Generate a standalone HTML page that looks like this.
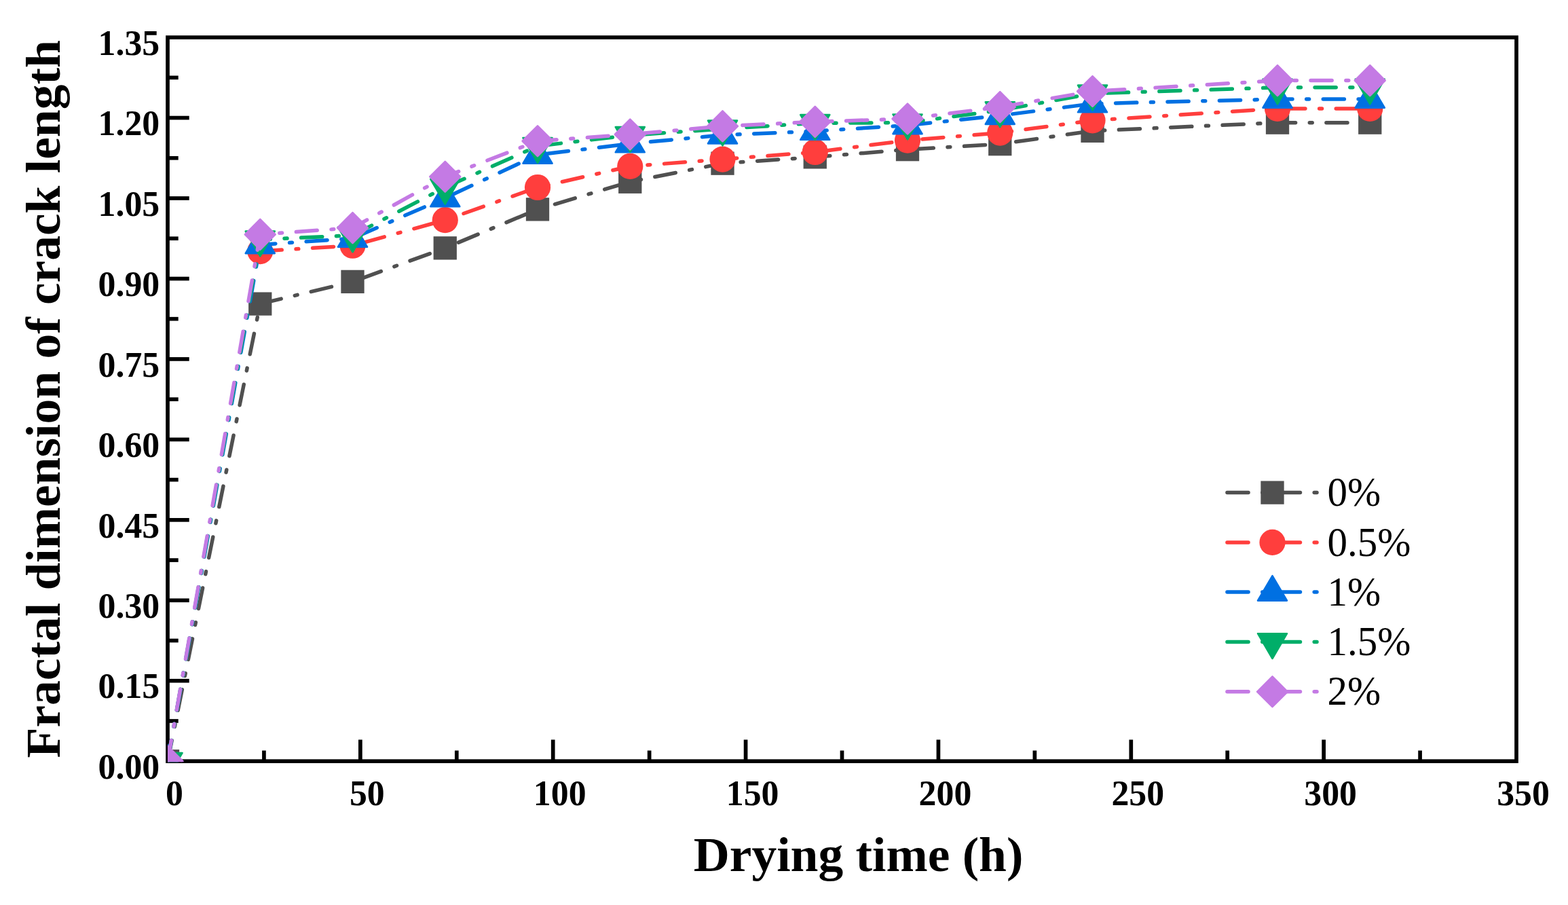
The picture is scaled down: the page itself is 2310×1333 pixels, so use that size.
<!DOCTYPE html>
<html lang="en"><head><meta charset="utf-8"><title>Fractal dimension of crack length vs drying time</title>
<style>
html,body{margin:0;padding:0;background:#fff;}
body{width:2310px;height:1333px;overflow:hidden;}
svg{display:block;}
text{font-family:"Liberation Serif",serif;fill:#000;}
.tick{font-weight:bold;font-size:51.8px;}
.title{font-weight:bold;font-size:73.5px;}
.leg{font-size:59px;}
</style></head><body>
<svg width="2310" height="1333" viewBox="0 0 2310 1333" role="img" aria-label="Fractal dimension of crack length versus drying time">
<rect x="0" y="0" width="2310" height="1333" fill="#ffffff"/>
<defs><clipPath id="plot"><rect x="247" y="55.1" width="1987" height="1067.1"/></clipPath></defs>
<g fill="none" stroke="#000" stroke-width="5.7" stroke-linecap="butt">
<rect x="247" y="55.1" width="1987" height="1066.1"/>
</g>
<g stroke="#000" stroke-width="5.7" stroke-linecap="butt">
<line x1="247" y1="1061.97" x2="262.7" y2="1061.97"/>
<line x1="247" y1="1002.74" x2="278.7" y2="1002.74"/>
<line x1="247" y1="943.52" x2="262.7" y2="943.52"/>
<line x1="247" y1="884.29" x2="278.7" y2="884.29"/>
<line x1="247" y1="825.06" x2="262.7" y2="825.06"/>
<line x1="247" y1="765.83" x2="278.7" y2="765.83"/>
<line x1="247" y1="706.61" x2="262.7" y2="706.61"/>
<line x1="247" y1="647.38" x2="278.7" y2="647.38"/>
<line x1="247" y1="588.15" x2="262.7" y2="588.15"/>
<line x1="247" y1="528.92" x2="278.7" y2="528.92"/>
<line x1="247" y1="469.69" x2="262.7" y2="469.69"/>
<line x1="247" y1="410.47" x2="278.7" y2="410.47"/>
<line x1="247" y1="351.24" x2="262.7" y2="351.24"/>
<line x1="247" y1="292.01" x2="278.7" y2="292.01"/>
<line x1="247" y1="232.78" x2="262.7" y2="232.78"/>
<line x1="247" y1="173.56" x2="278.7" y2="173.56"/>
<line x1="247" y1="114.33" x2="262.7" y2="114.33"/>
<line x1="388.93" y1="1121.2" x2="388.93" y2="1105.5"/>
<line x1="530.86" y1="1121.2" x2="530.86" y2="1089.5"/>
<line x1="672.79" y1="1121.2" x2="672.79" y2="1105.5"/>
<line x1="814.71" y1="1121.2" x2="814.71" y2="1089.5"/>
<line x1="956.64" y1="1121.2" x2="956.64" y2="1105.5"/>
<line x1="1098.57" y1="1121.2" x2="1098.57" y2="1089.5"/>
<line x1="1240.5" y1="1121.2" x2="1240.5" y2="1105.5"/>
<line x1="1382.43" y1="1121.2" x2="1382.43" y2="1089.5"/>
<line x1="1524.36" y1="1121.2" x2="1524.36" y2="1105.5"/>
<line x1="1666.29" y1="1121.2" x2="1666.29" y2="1089.5"/>
<line x1="1808.21" y1="1121.2" x2="1808.21" y2="1105.5"/>
<line x1="1950.14" y1="1121.2" x2="1950.14" y2="1089.5"/>
<line x1="2092.07" y1="1121.2" x2="2092.07" y2="1105.5"/>
</g>
<g class="tick" text-anchor="end">
<text transform="translate(235.2 1146.9) scale(1 1.022)">0.00</text>
<text transform="translate(235.2 1028.44) scale(1 1.022)">0.15</text>
<text transform="translate(235.2 909.99) scale(1 1.022)">0.30</text>
<text transform="translate(235.2 791.53) scale(1 1.022)">0.45</text>
<text transform="translate(235.2 673.08) scale(1 1.022)">0.60</text>
<text transform="translate(235.2 554.62) scale(1 1.022)">0.75</text>
<text transform="translate(235.2 436.17) scale(1 1.022)">0.90</text>
<text transform="translate(235.2 317.71) scale(1 1.022)">1.05</text>
<text transform="translate(235.2 199.26) scale(1 1.022)">1.20</text>
<text transform="translate(235.2 80.8) scale(1 1.022)">1.35</text>
</g>
<g class="tick" text-anchor="middle">
<text transform="translate(257 1186.1) scale(1 1.022)">0</text>
<text transform="translate(540.86 1186.1) scale(1 1.022)">50</text>
<text transform="translate(824.71 1186.1) scale(1 1.022)">100</text>
<text transform="translate(1108.57 1186.1) scale(1 1.022)">150</text>
<text transform="translate(1392.43 1186.1) scale(1 1.022)">200</text>
<text transform="translate(1676.29 1186.1) scale(1 1.022)">250</text>
<text transform="translate(1960.14 1186.1) scale(1 1.022)">300</text>
<text transform="translate(2244 1186.1) scale(1 1.022)">350</text>
</g>
<text class="title" text-anchor="middle" transform="translate(1264.6 1283) scale(1 0.983)">Drying time (h)</text>
<text class="title" text-anchor="middle" transform="translate(88 587.8) rotate(-90) scale(1 0.983)">Fractal dimension of crack length</text>
<g clip-path="url(#plot)">
<polyline points="247,1121.2 383.25,447.58 519.5,414.89 655.75,365.37 792.01,308.36 928.26,267.77 1064.51,240.68 1200.76,231.36 1337.01,220.15 1473.26,212.17 1609.51,192.82 1882.02,180.66 2018.27,180.66" fill="none" stroke="#505050" stroke-width="5.5" stroke-linecap="round" stroke-linejoin="round" stroke-dasharray="31.1 20.72 3.9 20.72"/>
<rect x="229.85" y="1104.05" width="34.3" height="34.3" fill="#505050"/>
<rect x="366.1" y="430.43" width="34.3" height="34.3" fill="#505050"/>
<rect x="502.35" y="397.74" width="34.3" height="34.3" fill="#505050"/>
<rect x="638.6" y="348.22" width="34.3" height="34.3" fill="#505050"/>
<rect x="774.86" y="291.21" width="34.3" height="34.3" fill="#505050"/>
<rect x="911.11" y="250.62" width="34.3" height="34.3" fill="#505050"/>
<rect x="1047.36" y="223.53" width="34.3" height="34.3" fill="#505050"/>
<rect x="1183.61" y="214.21" width="34.3" height="34.3" fill="#505050"/>
<rect x="1319.86" y="203" width="34.3" height="34.3" fill="#505050"/>
<rect x="1456.11" y="195.02" width="34.3" height="34.3" fill="#505050"/>
<rect x="1592.36" y="175.67" width="34.3" height="34.3" fill="#505050"/>
<rect x="1864.87" y="163.51" width="34.3" height="34.3" fill="#505050"/>
<rect x="2001.12" y="163.51" width="34.3" height="34.3" fill="#505050"/>
<polyline points="383.25,370.03 519.5,361.74 655.75,324.15 792.01,275.98 928.26,244.94 1064.51,234.6 1200.76,224.02 1337.01,206.72 1473.26,195.59 1609.51,177.43 1882.02,159.89 2018.27,159.89" fill="none" stroke="#FF3E3D" stroke-width="5.5" stroke-linecap="round" stroke-linejoin="round" stroke-dasharray="31.1 20.72 3.9 20.72" stroke-dashoffset="75.46"/>
<circle cx="383.25" cy="370.03" r="19.1" fill="#FF3E3D"/>
<circle cx="519.5" cy="361.74" r="19.1" fill="#FF3E3D"/>
<circle cx="655.75" cy="324.15" r="19.1" fill="#FF3E3D"/>
<circle cx="792.01" cy="275.98" r="19.1" fill="#FF3E3D"/>
<circle cx="928.26" cy="244.94" r="19.1" fill="#FF3E3D"/>
<circle cx="1064.51" cy="234.6" r="19.1" fill="#FF3E3D"/>
<circle cx="1200.76" cy="224.02" r="19.1" fill="#FF3E3D"/>
<circle cx="1337.01" cy="206.72" r="19.1" fill="#FF3E3D"/>
<circle cx="1473.26" cy="195.59" r="19.1" fill="#FF3E3D"/>
<circle cx="1609.51" cy="177.43" r="19.1" fill="#FF3E3D"/>
<circle cx="1882.02" cy="159.89" r="19.1" fill="#FF3E3D"/>
<circle cx="2018.27" cy="159.89" r="19.1" fill="#FF3E3D"/>
<polyline points="247,1121.2 383.25,360.48 519.5,351.08 655.75,291.62 792.01,228.05 928.26,211.7 1064.51,198.83 1200.76,193.22 1337.01,184.61 1473.26,170.24 1609.51,152.71 1882.02,146.07 2018.27,146.07" fill="none" stroke="#0070E2" stroke-width="5.5" stroke-linecap="round" stroke-linejoin="round" stroke-dasharray="31.1 20.72 3.9 20.72"/>
<polygon points="225.5,1133.8 268.5,1133.8 247,1097.4" fill="#0070E2" stroke="#0070E2" stroke-width="2.6" stroke-linejoin="round"/>
<polygon points="361.75,373.08 404.75,373.08 383.25,336.68" fill="#0070E2" stroke="#0070E2" stroke-width="2.6" stroke-linejoin="round"/>
<polygon points="498,363.68 541,363.68 519.5,327.28" fill="#0070E2" stroke="#0070E2" stroke-width="2.6" stroke-linejoin="round"/>
<polygon points="634.25,304.22 677.25,304.22 655.75,267.82" fill="#0070E2" stroke="#0070E2" stroke-width="2.6" stroke-linejoin="round"/>
<polygon points="770.51,240.65 813.51,240.65 792.01,204.25" fill="#0070E2" stroke="#0070E2" stroke-width="2.6" stroke-linejoin="round"/>
<polygon points="906.76,224.3 949.76,224.3 928.26,187.9" fill="#0070E2" stroke="#0070E2" stroke-width="2.6" stroke-linejoin="round"/>
<polygon points="1043.01,211.43 1086.01,211.43 1064.51,175.03" fill="#0070E2" stroke="#0070E2" stroke-width="2.6" stroke-linejoin="round"/>
<polygon points="1179.26,205.82 1222.26,205.82 1200.76,169.42" fill="#0070E2" stroke="#0070E2" stroke-width="2.6" stroke-linejoin="round"/>
<polygon points="1315.51,197.21 1358.51,197.21 1337.01,160.81" fill="#0070E2" stroke="#0070E2" stroke-width="2.6" stroke-linejoin="round"/>
<polygon points="1451.76,182.84 1494.76,182.84 1473.26,146.44" fill="#0070E2" stroke="#0070E2" stroke-width="2.6" stroke-linejoin="round"/>
<polygon points="1588.01,165.31 1631.01,165.31 1609.51,128.91" fill="#0070E2" stroke="#0070E2" stroke-width="2.6" stroke-linejoin="round"/>
<polygon points="1860.52,158.67 1903.52,158.67 1882.02,122.27" fill="#0070E2" stroke="#0070E2" stroke-width="2.6" stroke-linejoin="round"/>
<polygon points="1996.77,158.67 2039.77,158.67 2018.27,122.27" fill="#0070E2" stroke="#0070E2" stroke-width="2.6" stroke-linejoin="round"/>
<polyline points="247,1121.2 383.25,352.82 519.5,346.66 655.75,275.98 792.01,215.17 928.26,199.22 1064.51,189.82 1200.76,181.29 1337.01,180.66 1473.26,162.5 1609.51,137.78 1882.02,128.86 2018.27,128.86" fill="none" stroke="#00AE69" stroke-width="5.5" stroke-linecap="round" stroke-linejoin="round" stroke-dasharray="31.1 20.72 3.9 20.72"/>
<polygon points="225.5,1109 268.5,1109 247,1145.8" fill="#00AE69" stroke="#00AE69" stroke-width="2.6" stroke-linejoin="round"/>
<polygon points="361.75,340.62 404.75,340.62 383.25,377.42" fill="#00AE69" stroke="#00AE69" stroke-width="2.6" stroke-linejoin="round"/>
<polygon points="498,334.46 541,334.46 519.5,371.26" fill="#00AE69" stroke="#00AE69" stroke-width="2.6" stroke-linejoin="round"/>
<polygon points="634.25,263.78 677.25,263.78 655.75,300.58" fill="#00AE69" stroke="#00AE69" stroke-width="2.6" stroke-linejoin="round"/>
<polygon points="770.51,202.97 813.51,202.97 792.01,239.77" fill="#00AE69" stroke="#00AE69" stroke-width="2.6" stroke-linejoin="round"/>
<polygon points="906.76,187.02 949.76,187.02 928.26,223.82" fill="#00AE69" stroke="#00AE69" stroke-width="2.6" stroke-linejoin="round"/>
<polygon points="1043.01,177.62 1086.01,177.62 1064.51,214.42" fill="#00AE69" stroke="#00AE69" stroke-width="2.6" stroke-linejoin="round"/>
<polygon points="1179.26,169.09 1222.26,169.09 1200.76,205.89" fill="#00AE69" stroke="#00AE69" stroke-width="2.6" stroke-linejoin="round"/>
<polygon points="1315.51,168.46 1358.51,168.46 1337.01,205.26" fill="#00AE69" stroke="#00AE69" stroke-width="2.6" stroke-linejoin="round"/>
<polygon points="1451.76,150.3 1494.76,150.3 1473.26,187.1" fill="#00AE69" stroke="#00AE69" stroke-width="2.6" stroke-linejoin="round"/>
<polygon points="1588.01,125.58 1631.01,125.58 1609.51,162.38" fill="#00AE69" stroke="#00AE69" stroke-width="2.6" stroke-linejoin="round"/>
<polygon points="1860.52,116.66 1903.52,116.66 1882.02,153.46" fill="#00AE69" stroke="#00AE69" stroke-width="2.6" stroke-linejoin="round"/>
<polygon points="1996.77,116.66 2039.77,116.66 2018.27,153.46" fill="#00AE69" stroke="#00AE69" stroke-width="2.6" stroke-linejoin="round"/>
<polyline points="247,1121.2 383.25,345.4 519.5,335.6 655.75,260.27 792.01,207.75 928.26,198.04 1064.51,185.87 1200.76,179.4 1337.01,174.98 1473.26,157.6 1609.51,134.54 1882.02,118.59 2018.27,118.59" fill="none" stroke="#C47AE4" stroke-width="5.5" stroke-linecap="round" stroke-linejoin="round" stroke-dasharray="31.1 20.72 3.9 20.72"/>
<polygon points="224.6,1121.2 247,1098.8 269.4,1121.2 247,1143.6" fill="#C47AE4" stroke="#C47AE4" stroke-width="2.6" stroke-linejoin="round"/>
<polygon points="360.85,345.4 383.25,323 405.65,345.4 383.25,367.8" fill="#C47AE4" stroke="#C47AE4" stroke-width="2.6" stroke-linejoin="round"/>
<polygon points="497.1,335.6 519.5,313.2 541.9,335.6 519.5,358" fill="#C47AE4" stroke="#C47AE4" stroke-width="2.6" stroke-linejoin="round"/>
<polygon points="633.35,260.27 655.75,237.87 678.15,260.27 655.75,282.67" fill="#C47AE4" stroke="#C47AE4" stroke-width="2.6" stroke-linejoin="round"/>
<polygon points="769.61,207.75 792.01,185.35 814.41,207.75 792.01,230.15" fill="#C47AE4" stroke="#C47AE4" stroke-width="2.6" stroke-linejoin="round"/>
<polygon points="905.86,198.04 928.26,175.64 950.66,198.04 928.26,220.44" fill="#C47AE4" stroke="#C47AE4" stroke-width="2.6" stroke-linejoin="round"/>
<polygon points="1042.11,185.87 1064.51,163.47 1086.91,185.87 1064.51,208.27" fill="#C47AE4" stroke="#C47AE4" stroke-width="2.6" stroke-linejoin="round"/>
<polygon points="1178.36,179.4 1200.76,157 1223.16,179.4 1200.76,201.8" fill="#C47AE4" stroke="#C47AE4" stroke-width="2.6" stroke-linejoin="round"/>
<polygon points="1314.61,174.98 1337.01,152.58 1359.41,174.98 1337.01,197.38" fill="#C47AE4" stroke="#C47AE4" stroke-width="2.6" stroke-linejoin="round"/>
<polygon points="1450.86,157.6 1473.26,135.2 1495.66,157.6 1473.26,180" fill="#C47AE4" stroke="#C47AE4" stroke-width="2.6" stroke-linejoin="round"/>
<polygon points="1587.11,134.54 1609.51,112.14 1631.91,134.54 1609.51,156.94" fill="#C47AE4" stroke="#C47AE4" stroke-width="2.6" stroke-linejoin="round"/>
<polygon points="1859.62,118.59 1882.02,96.19 1904.42,118.59 1882.02,140.99" fill="#C47AE4" stroke="#C47AE4" stroke-width="2.6" stroke-linejoin="round"/>
<polygon points="1995.87,118.59 2018.27,96.19 2040.67,118.59 2018.27,140.99" fill="#C47AE4" stroke="#C47AE4" stroke-width="2.6" stroke-linejoin="round"/>
</g>
<g>
<line x1="1807.95" y1="725.6" x2="1940" y2="725.6" stroke="#505050" stroke-width="5.5" stroke-linecap="round" stroke-dasharray="31.1 20.72 3.9 20.72"/>
<rect x="1857.35" y="708.45" width="34.3" height="34.3" fill="#505050"/>
<text class="leg" transform="translate(1955.4 745.25) scale(1 1.026)">0%</text>
<line x1="1807.95" y1="798.9" x2="1940" y2="798.9" stroke="#FF3E3D" stroke-width="5.5" stroke-linecap="round" stroke-dasharray="31.1 20.72 3.9 20.72"/>
<circle cx="1874.5" cy="798.9" r="19.1" fill="#FF3E3D"/>
<text class="leg" transform="translate(1955.4 818.55) scale(1 1.026)">0.5%</text>
<line x1="1807.95" y1="872" x2="1940" y2="872" stroke="#0070E2" stroke-width="5.5" stroke-linecap="round" stroke-dasharray="31.1 20.72 3.9 20.72"/>
<polygon points="1853,884.6 1896,884.6 1874.5,848.2" fill="#0070E2" stroke="#0070E2" stroke-width="2.6" stroke-linejoin="round"/>
<text class="leg" transform="translate(1955.4 891.65) scale(1 1.026)">1%</text>
<line x1="1807.95" y1="945.4" x2="1940" y2="945.4" stroke="#00AE69" stroke-width="5.5" stroke-linecap="round" stroke-dasharray="31.1 20.72 3.9 20.72"/>
<polygon points="1853,933.2 1896,933.2 1874.5,970" fill="#00AE69" stroke="#00AE69" stroke-width="2.6" stroke-linejoin="round"/>
<text class="leg" transform="translate(1955.4 965.05) scale(1 1.026)">1.5%</text>
<line x1="1807.95" y1="1018.8" x2="1940" y2="1018.8" stroke="#C47AE4" stroke-width="5.5" stroke-linecap="round" stroke-dasharray="31.1 20.72 3.9 20.72"/>
<polygon points="1852.1,1018.8 1874.5,996.4 1896.9,1018.8 1874.5,1041.2" fill="#C47AE4" stroke="#C47AE4" stroke-width="2.6" stroke-linejoin="round"/>
<text class="leg" transform="translate(1955.4 1038.45) scale(1 1.026)">2%</text>
</g>
</svg>
</body></html>
